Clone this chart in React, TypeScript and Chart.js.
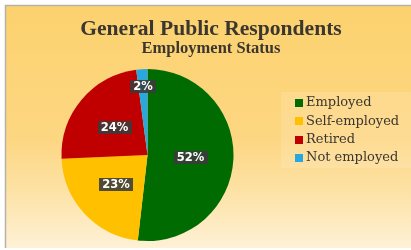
import React, { useEffect, useRef } from "react";
import { Chart, registerables } from "chart.js";

Chart.register(...registerables);

const categories = ["Employed", "Self-employed", "Retired", "Not employed"];
const shares = [51.8, 22.5, 23.6, 2.1];
const sliceColors = ["#006B00", "#FFC000", "#C00000", "#29A8E0"];
const titleText = "General Public Respondents";
const subtitleText = "Employment Status";

const SERIF = "'DejaVu Serif', serif";
const TITLE_FONT = "'Liberation Serif', serif";

const backgroundPlugin = {
  id: "panelBg",
  beforeDraw(chart: any) {
    const { ctx, width, height } = chart;
    ctx.save();
    ctx.fillStyle = "#ffffff";
    ctx.fillRect(0, 0, width, height);
    const g = ctx.createLinearGradient(0, 6, 0, 248);
    g.addColorStop(0, "#FCD26E");
    g.addColorStop(0.55, "#FDD682");
    g.addColorStop(0.78, "#FDE3A8");
    g.addColorStop(1, "#FEF1D6");
    ctx.fillStyle = g;
    ctx.fillRect(5, 5, width - 5, 243);
    ctx.strokeStyle = "#B8B2A6";
    ctx.lineWidth = 1.5;
    ctx.beginPath();
    ctx.moveTo(5.5, 248);
    ctx.lineTo(5.5, 5.5);
    ctx.lineTo(width, 5.5);
    ctx.stroke();
    ctx.restore();
  },
  afterDraw(chart: any) {
    const { ctx } = chart;
    ctx.save();
    ctx.fillStyle = "#3B3630";
    ctx.textAlign = "center";
    ctx.textBaseline = "middle";
    ctx.font = "bold 21.6px " + TITLE_FONT;
    ctx.fillText(titleText, 211, 29);
    ctx.font = "bold 16.5px " + TITLE_FONT;
    ctx.fillText(subtitleText, 211, 49);
    ctx.restore();
  },
};

const labelPlugin = {
  id: "sliceLabels",
  afterDatasetsDraw(chart: any) {
    const { ctx } = chart;
    const meta = chart.getDatasetMeta(0);
    const data = chart.data.datasets[0].data as number[];
    const total = data.reduce((a, b) => a + b, 0);
    ctx.save();
    ctx.font = "bold 11.5px 'DejaVu Sans', sans-serif";
    ctx.textAlign = "center";
    ctx.textBaseline = "middle";
    meta.data.forEach((arc: any, i: number) => {
      const { x, y, startAngle, endAngle, outerRadius } = arc.getProps(
        ["x", "y", "startAngle", "endAngle", "outerRadius"],
        true
      );
      const mid = (startAngle + endAngle) / 2;
      const pct = (data[i] / total) * 100;
      const frac = pct < 5 ? 0.8 : 0.5;
      const lx = x + Math.cos(mid) * outerRadius * frac;
      const ly = y + Math.sin(mid) * outerRadius * frac;
      const text = Math.round(pct) + "%";
      const w = ctx.measureText(text).width + 6;
      const h = 13;
      ctx.fillStyle = "rgba(58,58,58,0.88)";
      ctx.fillRect(Math.round(lx - w / 2), Math.round(ly - h / 2), Math.round(w), h);
      ctx.fillStyle = "#ffffff";
      ctx.fillText(text, lx, ly + 0.5);
    });
    ctx.restore();
  },
};

const legendPlugin = {
  id: "sideLegend",
  afterDraw(chart: any) {
    const { ctx } = chart;
    const labels = chart.data.labels as string[];
    const colors = chart.data.datasets[0].backgroundColor as string[];
    ctx.save();
    ctx.fillStyle = "rgba(255,250,235,0.16)";
    ctx.fillRect(281, 92, 130, 76);
    ctx.font = "13px " + SERIF;
    ctx.textAlign = "left";
    ctx.textBaseline = "middle";
    labels.forEach((lab, i) => {
      const cy = 103 + i * 18.3;
      ctx.fillStyle = colors[i];
      ctx.fillRect(295, Math.round(cy - 4), 8, 8);
      ctx.fillStyle = "#3B3630";
      ctx.fillText(lab, 306, cy);
    });
    ctx.restore();
  },
};

export default function App() {
  const ref = useRef<HTMLCanvasElement>(null);
  useEffect(() => {
    document.body.style.margin = "0";
    const chart = new Chart(ref.current!, {
      type: "pie",
      data: {
        labels: categories,
        datasets: [
          {
            data: shares,
            backgroundColor: sliceColors,
            borderWidth: 0,
          },
        ],
      },
      options: {
        animation: false,
        responsive: false,
        layout: { padding: { top: 69, left: 61, right: 177, bottom: 9 } },
        plugins: {
          legend: { display: false },
          tooltip: { enabled: false },
          title: { display: false },
        },
      },
      plugins: [backgroundPlugin, labelPlugin, legendPlugin],
    });
    return () => chart.destroy();
  }, []);
  return <canvas ref={ref} width={411} height={250} style={{ display: "block" }} />;
}
